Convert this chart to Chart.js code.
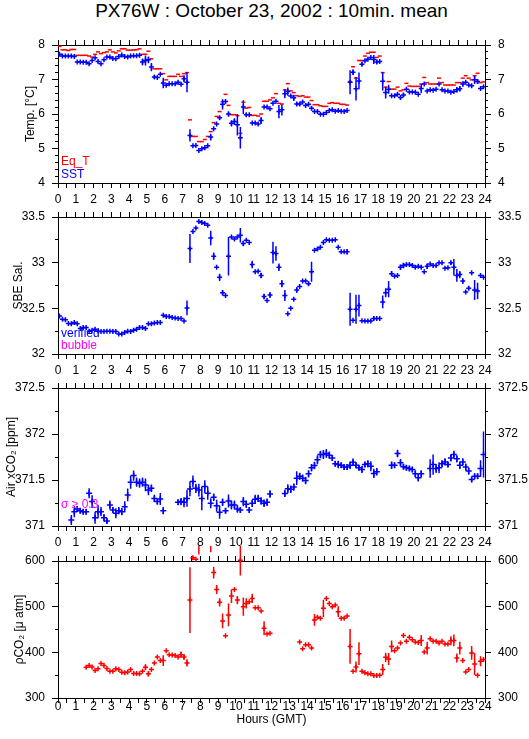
<!DOCTYPE html>
<html>
<head>
<meta charset="utf-8">
<script src="https://cdn.jsdelivr.net/npm/chart.js@4.4.1/dist/chart.umd.min.js"></script>
<style>
  body { margin: 0; background: #fff; }
  #wrap { position: relative; width: 529px; height: 739px; overflow: hidden; }
  #wrap canvas { position: absolute; left: 0; }
  #title { position: absolute; left: 58px; width: 427px; top: 1px; text-align: center;
           font: 19px "Liberation Sans", Arial, sans-serif; line-height: 19px; }
</style>
</head>
<body>
<div id="wrap">
  <div id="title">PX76W : October 23, 2002 : 10min. mean</div>
  <canvas id="temp_chart" width="529" height="183" style="top:30px"></canvas>
  <canvas id="sal_chart" width="529" height="182" style="top:202px"></canvas>
  <canvas id="xco2_chart" width="529" height="183" style="top:373px"></canvas>
  <canvas id="pco2_chart" width="529" height="192" style="top:546px"></canvas>
</div>
<script>
// 10 minute means, one row per hour (6 values), null = no data
const eqT = [
  7.96, 7.86, 7.86, 7.84, 7.87, 7.87,
  7.70, 7.70, 7.70, 7.70, 7.68, 7.65,
  7.73, 7.80, 7.75, 7.78, 7.80, 7.86,
  7.80, 7.77, 7.83, 7.89, 7.89, 7.85,
  7.85, 7.86, 7.86, 7.89, 7.73, 7.73,
  7.82, 7.60, 7.31, 7.31, 7.31, 7.17,
  6.99, 7.09, 7.09, 7.09, 7.15, 7.09,
  7.17, 7.20, 5.83, 5.35, 5.35, 5.20,
  5.20, 5.26, 5.35, 5.49, 5.75, 5.93,
  6.07, 6.36, 6.57, 6.25, 5.98, 5.98,
  5.95, 5.44, 6.34, 6.17, 6.19, 5.96,
  5.96, 5.94, 6.00, 6.37, 6.37, 6.41,
  6.47, 6.59, 6.31, 6.29, 6.70, 6.88,
  6.67, 6.62, 6.53, 6.51, 6.53, 6.49,
  6.49, 6.39, 6.27, 6.27, 6.24, 6.22,
  6.22, 6.31, 6.33, 6.31, 6.31, 6.28,
  6.28, 6.26, 6.94, 7.37, 7.04, 7.55,
  7.55, 7.68, 7.76, 7.79, 7.79, 7.64,
  7.68, 7.20, 6.78, 6.94, 6.72, 6.72,
  6.78, 6.67, 6.70, 6.89, 6.81, 6.80,
  6.80, 6.80, 6.87, 7.06, 6.91, 6.87,
  6.87, 6.87, 7.04, 6.91, 6.84, 6.84,
  6.84, 6.84, 6.91, 6.91, 7.04, 7.11,
  7.04, 6.99, 7.11, 7.18, 6.91, 6.93
];
const sst = [
  7.73, 7.68, 7.68, 7.68, 7.68, 7.67,
  7.51, 7.51, 7.50, 7.50, 7.46, 7.55,
  7.63, 7.52, 7.46, 7.57, 7.65, 7.65,
  7.61, 7.60, 7.67, 7.71, 7.67, 7.65,
  7.68, 7.69, 7.69, 7.70, 7.51, 7.55,
  7.57, 7.36, 7.07, 7.06, 7.15, 6.90,
  6.83, 6.88, 6.88, 6.88, 6.92, 6.86,
  7.02, 6.92, 5.38, 5.08, 5.09, 4.94,
  4.99, 5.02, 5.08, 5.33, 5.57, 5.71,
  5.89, 6.28, 6.36, 6.00, 5.73, 5.78,
  5.69, 5.31, 6.20, 5.98, 5.98, 5.74,
  5.74, 5.71, 5.81, 6.20, 6.20, 6.15,
  6.31, 6.37, 6.07, 6.12, 6.59, 6.65,
  6.52, 6.47, 6.29, 6.29, 6.35, 6.25,
  6.28, 6.17, 6.07, 6.07, 5.99, 5.99,
  6.04, 6.10, 6.12, 6.08, 6.10, 6.08,
  6.07, 6.10, 6.92, 7.21, 6.73, 6.96,
  7.44, 7.54, 7.59, 7.64, 7.58, 7.51,
  7.52, 6.95, 6.62, 6.72, 6.53, 6.53,
  6.57, 6.48, 6.55, 6.72, 6.64, 6.64,
  6.63, 6.57, 6.74, 6.87, 6.67, 6.70,
  6.69, 6.72, 6.87, 6.70, 6.67, 6.67,
  6.63, 6.65, 6.70, 6.73, 6.87, 6.92,
  6.84, 6.82, 6.99, 6.94, 6.74, 6.79
];
const sstErr = [
  0, 0, 0, 0, 0, 0,
  0, 0, 0, 0, 0, 0,
  0, 0, 0, 0, 0, 0,
  0, 0, 0, 0, 0, 0,
  0, 0, 0, 0, .10, .145,
  .10, .12, .05, 0, 0, .15,
  0, 0, 0, 0, 0, 0,
  .10, .29, .18, 0, 0, 0,
  0, 0, 0, .10, 0, 0,
  .05, .15, 0, .07, .09, .10,
  .31, .31, .20, .05, 0, 0,
  0, 0, .10, 0, 0, 0,
  0, 0, .19, .16, .13, .12,
  0, .09, .06, .06, 0, 0,
  0, .05, 0, 0, 0, 0,
  0, 0, 0, 0, 0, 0,
  0, 0, .35, .08, .34, .24,
  .05, 0, 0, 0, .13, .06,
  0, .27, .17, .13, 0, 0,
  0, .05, .06, 0, 0, 0,
  0, 0, .13, 0, 0, 0,
  0, 0, 0, 0, 0, 0,
  0, 0, .08, .08, .07, 0,
  0, 0, .12, .07, 0, 0
];

const sal = [
  32.415, 32.38, 32.375, 32.335, 32.33, 32.345,
  32.33, 32.28, 32.29, 32.29, 32.25, 32.26,
  32.27, 32.25, 32.245, 32.245, 32.25, 32.25,
  32.245, 32.245, 32.22, 32.22, 32.235, 32.25,
  32.245, 32.26, 32.27, 32.29, 32.29, 32.28,
  32.33, 32.33, 32.34, 32.345, 32.345, 32.425,
  32.41, 32.41, 32.40, 32.395, 32.39, 32.39,
  32.36, 32.505, 33.155, 33.34, 33.38, 33.45,
  33.44, 33.43, 33.41, 33.27, 33.07, 32.95,
  32.84, 32.67, 32.64, 33.07, 33.28, 33.26,
  33.28, 33.30, 33.21, 33.245, 33.22, 32.98,
  32.90, 32.905, 32.86, 32.63, 32.585, 32.645,
  33.11, 33.10, 32.95, 32.77, 32.64, 32.44,
  32.50, 32.60, 32.70, 32.74, 32.80, 32.80,
  32.77, 32.90, 33.135, 33.15, 33.17, 33.22,
  33.25, 33.245, 33.245, 33.25, 33.17, 33.12,
  33.12, 33.12, 32.49, 32.37, 32.49, 32.53,
  32.365, 32.36, 32.36, 32.36, 32.39, 32.39,
  32.39, 32.57, 32.67, 32.71, 32.88, 32.85,
  32.86, 32.95, 32.97, 32.98, 32.98, 32.97,
  32.95, 32.96, 32.95, 32.90, 32.96, 32.985,
  32.97, 32.97, 33.00, 33.00, 32.94, 32.945,
  33.00, 32.95, 32.86, 32.87, 32.80, 32.68,
  32.72, 32.89, 32.70, 32.69, 32.86, 32.84
];
const salErr = [
  0, 0, 0, 0, 0, 0,
  0, 0, 0, 0, 0, 0,
  0, 0, 0, 0, 0, 0,
  0, 0, 0, 0, 0, 0,
  0, 0, 0, 0, 0, 0,
  0, 0, 0, 0, 0, 0,
  0, 0, 0, 0, 0, 0,
  0, .08, .16, 0, 0, 0,
  0, 0, 0, .08, .04, 0,
  .04, .03, 0, .21, 0, 0,
  0, .08, .03, 0, 0, .04,
  0, 0, .03, .03, 0, .03,
  .12, .08, .04, .04, .06, 0,
  0, 0, .03, 0, 0, 0,
  .02, .11, 0, 0, 0, 0,
  0, 0, 0, 0, 0, 0,
  0, .03, .18, 0, .16, .12,
  0, 0, 0, 0, .02, 0,
  0, .07, .05, .09, .03, 0,
  0, .03, .03, 0, 0, 0,
  0, 0, 0, 0, .03, 0,
  0, 0, 0, 0, 0, 0,
  .02, .09, .07, .04, .03, 0,
  .02, 0, .11, .09, 0, 0
];

const xco2 = [
  null, null, null, null, 371.065, 371.156,
  371.185, 371.167, 371.156, 371.156, 371.356, 371.265,
  371.09, 371.156, 371.156, 371.09, 371.054, 371.228,
  371.174, 371.138, 371.167, 371.156, 371.21, 371.338,
  371.476, 371.548, 371.476, 371.465, 371.476, 371.447,
  371.39, 371.41, 371.30, 371.265, 371.294, 371.167,
  null, null, null, null, 371.258, 371.265,
  371.258, 371.30, 371.403, 371.483, 371.41, 371.39,
  371.30, 371.428, 371.356, 371.247, 371.312, 371.22,
  371.149, 371.258, 371.167, 371.272, 371.228, 371.228,
  371.185, 371.174, 371.265, 371.236, 371.174, 371.247,
  371.29, 371.30, 371.272, 371.247, 371.258, 371.348,
  null, null, null, null, 371.354, 371.405,
  371.40, 371.423, 371.52, 371.54, 371.52, 371.495,
  371.567, 371.633, 371.658, 371.72, 371.777, 371.777,
  371.788, 371.77, 371.74, 371.676, 371.668, 371.66,
  371.64, 371.64, 371.66, 371.694, 371.66, 371.633,
  371.615, 371.668, 371.676, 371.65, 371.571, 371.59,
  null, null, null, null, 371.66, 371.66,
  371.788, 371.687, 371.643, 371.633, 371.625, 371.615,
  371.567, 371.524, 371.567, null, null, 371.625,
  371.668, 371.625, 371.633, 371.676, 371.697, 371.668,
  371.74, 371.777, 371.73, 371.66, 371.697, 371.64,
  371.597, 371.506, 371.542, 371.542, 371.625, 371.777
];
const xco2Err = [
  0, 0, 0, 0, .055, .06,
  .03, .03, .03, .03, .055, .07,
  .065, .075, .05, .04, .03, .05,
  .03, .055, .04, .04, .06, .07,
  .07, .055, .05, .05, .05, .07,
  .055, .04, .04, .03, .065, .04,
  0, 0, 0, 0, .03, .04,
  .055, .09, .08, .065, .05, .07,
  .13, .07, .07, .055, .04, .065,
  .07, .04, .03, .07, .05, .05,
  .04, .03, .05, .04, .03, .04,
  .05, .04, .04, .04, .04, .04,
  0, 0, 0, 0, .04, .05,
  .04, .04, .075, .04, .04, .04,
  .04, .04, .04, .05, .04, .05,
  .05, .04, .03, .03, .04, .03,
  .03, .03, .04, .04, .03, .03,
  .04, .03, .04, .055, .05, .04,
  0, 0, 0, 0, .04, .03,
  .04, .04, .03, .03, .03, .03,
  .04, .04, .04, 0, 0, .10,
  .11, .05, .06, .04, .04, .03,
  .04, .04, .04, .04, .04, .04,
  .04, .03, .03, .03, .09, .25
];

const pco2 = [
  null, null, null, null, null, null,
  null, null, null, 367.4, 371, 368,
  360, 363.8, 375.4, 371, 364.5, 358.7,
  358.7, 363.8, 362.3, 356.5, 355.1, 357.2,
  362.3, 353.6, 353.6, 352.9, 358.7, 367.4,
  352.9, 362.3, 376.8, 389.9, 381.9, 381.9,
  403.6, 394.9, 394.2, 392.8, 389.9, 394.9,
  389.9, 376.8, 514.5, 607, 603.6, 630,
  641, 639, null, 634, 574.6, 537.7,
  509.4, 468.8, 436.2, 481.9, 523.2, 537.7,
  514.5, 601.4, 500, 507.2, 510.9, 518.1,
  497.8, 497.8, 490.6, 452.9, 439.9, 442,
  null, null, null, null, null, null,
  null, null, null, 422.5, 408, 416.7,
  416.7, 409.4, 471, 476.8, 474.6, 496.4,
  518.1, 507.2, 500, 503.6, 489.1, 474.6,
  474.6, 479.7, 413, 358.7, 368.1, 397.1,
  358.7, 355.1, 352.9, 352.9, 349.3, 349.3,
  350, 362.3, 389.1, 385.5, 413, 403.6,
  409.4, 420.3, 437, 424, 433.3, 427.5,
  422.5, 421.7, 426.1, 400.7, 409.4, 429.7,
  424, 424, 420.3, 424, 418.1, 418.1,
  425.4, 426.1, 387.7, 409.4, 381.9, 357.2,
  362.3, 398.6, 374.6, 350, 380.4, 384.1
];
const pco2Err = [
  0, 0, 0, 0, 0, 0,
  0, 0, 0, 0, 0, 0,
  0, 0, 0, 0, 0, 0,
  0, 0, 0, 0, 0, 0,
  0, 0, 0, 0, 0, 6.5,
  6, 0, 0, 0, 0, 11.6,
  0, 0, 0, 0, 0, 7,
  6, 8, 72, 4, 0, 16,
  0, 0, 0, 15, 13, 10,
  9, 16, 0, 25, 15, 0,
  9, 33, 20, 11, 0, 10,
  0, 0, 0, 15, 0, 0,
  0, 0, 0, 0, 0, 0,
  0, 0, 0, 0, 0, 0,
  0, 0, 13, 0, 0, 19,
  0, 0, 0, 0, 12, 0,
  0, 0, 38, 0, 12, 25,
  0, 0, 0, 0, 0, 0,
  0, 12, 10, 13, 13, 0,
  0, 0, 0, 0, 0, 0,
  0, 0, 12, 0, 14, 0,
  0, 0, 0, 0, 0, 0,
  10, 13, 10, 14, 0, 0,
  0, 15, 24, 0, 11, 0
];

const BLUE = '#0000ff';
const RED = '#ff0000';
const MAGENTA = '#ff00ff';

Chart.defaults.font.family = '"Liberation Sans", Arial, Helvetica, sans-serif';
Chart.defaults.font.size = 12;
Chart.defaults.color = '#000';

// centre of the i-th 10 minute bin, in hours
const slotHour = i => (i + 0.5) / 6;

function points(vals) {
    return vals.map((v, i) => ({x: slotHour(i), y: v}));
}

// vertical error bars as separate line pieces (null breaks the line)
function errorBars(vals, errs) {
    const out = [];
    vals.forEach((v, i) => {
        if (v === null || !errs[i]) return;
        const x = slotHour(i);
        out.push({x: x, y: v - errs[i]}, {x: x, y: v + errs[i]}, {x: x, y: null});
    });
    return out;
}

function notes(items) {
    return {
        id: 'notes',
        afterDraw(chart) {
            const {ctx, chartArea} = chart;
            ctx.save();
            ctx.font = '12px "Liberation Sans", Arial, sans-serif';
            ctx.textAlign = 'left';
            ctx.textBaseline = 'alphabetic';
            items.forEach(n => {
                ctx.fillStyle = n.color;
                ctx.fillText(n.text, chartArea.left + 3, chartArea.bottom - n.up);
            });
            ctx.restore();
        }
    };
}

function makePanel(id, cfg) {
    const ctx = document.getElementById(id).getContext('2d');
    const yAxis = (position, weight, minor) => ({
        position: position,
        weight: weight,
        min: cfg.yMin,
        max: cfg.yMax,
        ticks: minor ? {display: false, stepSize: cfg.yMinor}
                     : {stepSize: cfg.yStep, padding: 7, color: '#000',
                        callback: v => String(Number(v.toFixed(2)))},
        grid: {drawOnChartArea: false, tickLength: minor ? 3 : 6, color: '#000'},
        border: {display: !minor, color: '#000'},
        title: (position === 'left' && !minor)
            ? {display: true, text: cfg.yTitle, color: '#000', padding: {top: cfg.yTitlePad, bottom: 0}}
            : {display: false},
        afterFit: s => { s.width = minor ? 0 : (position === 'left' ? 58 : 44); }
    });

    return new Chart(ctx, {
        type: 'scatter',
        data: {datasets: cfg.datasets},
        options: {
            responsive: false,
            animation: false,
            events: [],
            layout: {padding: {top: 15, left: 0, right: 0, bottom: 0}},
            plugins: {legend: {display: false}, tooltip: {enabled: false}},
            scales: {
                x: {
                    type: 'linear',
                    position: 'bottom',
                    min: 0,
                    max: 24,
                    ticks: {
                        stepSize: 0.5,
                        autoSkip: false,
                        maxRotation: 0,
                        padding: cfg.xLabelPad,
                        color: '#000',
                        callback: v => Number.isInteger(v) ? String(v) : ''
                    },
                    grid: {drawOnChartArea: false, tickLength: 5, color: '#000'},
                    border: {color: '#000'},
                    title: cfg.xTitle
                        ? {display: true, text: cfg.xTitle, color: '#000', padding: {top: 0, bottom: 11}}
                        : {display: false},
                    afterFit: s => { s.height = cfg.xHeight; }
                },
                xTop: {
                    type: 'linear',
                    position: 'top',
                    min: 0,
                    max: 24,
                    ticks: {display: false, stepSize: 0.5},
                    grid: {drawOnChartArea: false, tickLength: 5, color: '#000'},
                    border: {color: '#000'},
                    afterFit: s => { s.height = 0; }
                },
                y: yAxis('left', 1, false),
                yMinor: yAxis('left', 0, true),
                yRight: yAxis('right', 1, false),
                yRightMinor: yAxis('right', 0, true)
            }
        },
        plugins: [notes(cfg.notes)]
    });
}

const temp_chart = makePanel('temp_chart', {
    yMin: 4, yMax: 8, yStep: 1, yMinor: 0.2,
    yTitle: 'Temp. [°C]', yTitlePad: 23,
    xHeight: 30, xLabelPad: 4,
    notes: [
        {text: 'Eq_T', color: RED, up: 18},
        {text: 'SST', color: BLUE, up: 5}
    ],
    datasets: [
        {
            label: 'SST',
            data: points(sst),
            pointStyle: 'cross',
            pointRadius: 2.5,
            borderColor: BLUE,
            pointBorderWidth: 1.5
        },
        {
            label: 'SST sd',
            data: errorBars(sst, sstErr),
            showLine: true,
            pointRadius: 0,
            borderColor: BLUE,
            borderWidth: 1.5
        },
        {
            label: 'Eq_T',
            data: points(eqT),
            pointStyle: 'line',
            pointRadius: 2,
            borderColor: RED,
            pointBorderWidth: 1.5
        }
    ]
});

const sal_chart = makePanel('sal_chart', {
    yMin: 32, yMax: 33.5, yStep: 0.5, yMinor: 0.25,
    yTitle: 'SBE Sal.', yTitlePad: 11,
    xHeight: 30, xLabelPad: 4,
    notes: [
        {text: 'verified', color: BLUE, up: 17},
        {text: 'bubble', color: MAGENTA, up: 5}
    ],
    datasets: [
        {
            label: 'Salinity',
            data: points(sal),
            pointStyle: 'cross',
            pointRadius: 2.5,
            borderColor: BLUE,
            pointBorderWidth: 1.5
        },
        {
            label: 'Salinity sd',
            data: errorBars(sal, salErr),
            showLine: true,
            pointRadius: 0,
            borderColor: BLUE,
            borderWidth: 1.5
        }
    ]
});

const xco2_chart = makePanel('xco2_chart', {
    yMin: 371, yMax: 372.5, yStep: 0.5, yMinor: 0.25,
    yTitle: 'Air xCO₂ [ppm]', yTitlePad: 4,
    xHeight: 30, xLabelPad: 4,
    notes: [
        {text: 'σ ≥ 0.3', color: MAGENTA, up: 18}
    ],
    datasets: [
        {
            label: 'Air xCO2',
            data: points(xco2),
            pointStyle: 'cross',
            pointRadius: 3,
            borderColor: BLUE,
            pointBorderWidth: 1.5
        },
        {
            label: 'Air xCO2 sd',
            data: errorBars(xco2, xco2Err),
            showLine: true,
            pointRadius: 0,
            borderColor: BLUE,
            borderWidth: 1.5
        }
    ]
});

const pco2_chart = makePanel('pco2_chart', {
    yMin: 300, yMax: 600, yStep: 100, yMinor: 50,
    yTitle: 'ρCO₂ [μ atm]', yTitlePad: 12,
    xHeight: 40, xLabelPad: -4,
    xTitle: 'Hours (GMT)',
    notes: [],
    datasets: [
        {
            label: 'pCO2',
            data: points(pco2),
            pointStyle: 'cross',
            pointRadius: 2.5,
            borderColor: RED,
            pointBorderWidth: 1.5,
            clip: false
        },
        {
            label: 'pCO2 sd',
            data: errorBars(pco2, pco2Err),
            showLine: true,
            pointRadius: 0,
            borderColor: RED,
            borderWidth: 1.5,
            clip: false
        }
    ]
});
</script>
</body>
</html>
